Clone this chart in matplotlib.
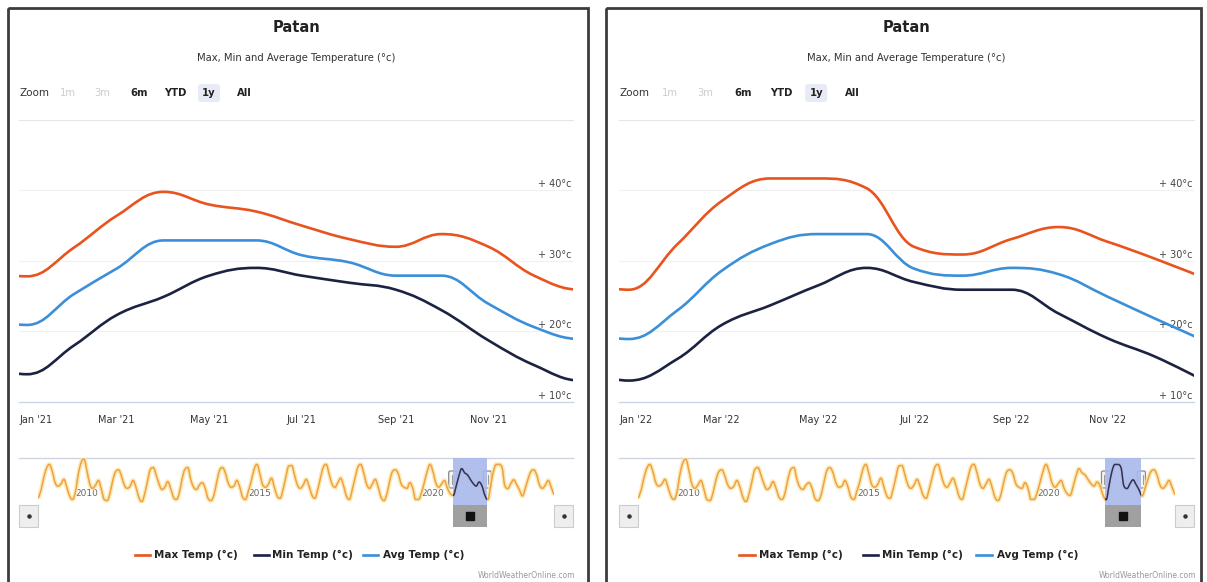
"""
Patan: Max / Min / Avg temperature, two 1-year views (2021, 2022) in Highstock-like panels.
"""
import datetime as dt

import matplotlib

matplotlib.use("Agg")
import matplotlib.dates as mdates
import matplotlib.pyplot as plt
import matplotlib.transforms as mtransforms
from matplotlib.patches import FancyBboxPatch, PathPatch, Rectangle
from matplotlib.path import Path

W, H = 1207, 582

# --- data -------------------------------------------------------------------
# monthly points, Dec 2020 .. Jan 2023
months = [dt.date(2020, 12, 1)] + [dt.date(2021 + m // 12, m % 12 + 1, 1) for m in range(25)]
max_temp = [28.6,
            27.8, 31.9, 36.4, 39.8, 38.0, 37.0, 35.0, 33.1, 32.0, 33.8, 32.0, 27.9,
            25.9, 32.4, 38.5, 41.7, 41.7, 40.3, 32.0, 30.9, 33.1, 34.8, 32.7, 30.3,
            27.6]
min_temp = [15.0,
            13.9, 18.0, 22.3, 24.9, 27.9, 29.0, 27.9, 26.9, 25.9, 23.0, 18.7, 15.2,
            13.0, 16.1, 20.9, 23.7, 26.5, 29.0, 27.0, 25.9, 25.9, 22.5, 19.0, 16.4,
            13.0]
avg_temp = [21.8,
            20.9, 25.3, 28.9, 32.9, 32.9, 32.9, 30.8, 29.8, 27.9, 27.9, 23.9, 20.6,
            18.9, 23.0, 28.6, 32.4, 33.8, 33.8, 28.9, 27.9, 29.0, 28.1, 24.9, 21.8,
            18.7]

# navigator (max temp, whole history 2009-2023)
nav_max_2009 = [26.5, 30.0, 35.5, 40.0, 41.7, 38.5, 33.5, 32.0, 33.0, 35.0, 31.5, 27.5]
nav_max_2010 = [26.0, 29.5, 37.0, 42.5, 44.1, 39.0, 33.0, 31.0, 32.5, 34.5, 30.5, 26.0]
nav_max_2011 = [25.5, 29.0, 34.5, 38.5, 39.3, 36.5, 32.5, 31.0, 32.0, 34.5, 31.5, 27.0]
nav_max_2012 = [25.0, 28.5, 34.0, 39.5, 40.3, 37.0, 33.0, 30.5, 31.5, 34.0, 31.0, 27.0]
nav_max_2013 = [26.0, 29.0, 35.0, 39.5, 40.3, 35.0, 31.5, 30.5, 32.5, 33.5, 31.0, 26.5]
nav_max_2014 = [25.5, 28.0, 33.5, 39.0, 40.3, 38.0, 33.5, 31.5, 32.0, 34.5, 31.5, 27.0]
nav_max_2015 = [26.0, 30.0, 34.0, 39.5, 41.7, 37.5, 32.5, 31.5, 33.0, 35.5, 31.5, 27.5]
nav_max_2016 = [26.5, 30.5, 36.0, 41.0, 41.2, 37.0, 32.5, 31.0, 32.5, 35.0, 32.0, 28.0]
nav_max_2017 = [26.5, 30.5, 35.5, 40.5, 41.7, 37.5, 33.0, 31.5, 33.5, 35.5, 32.0, 27.5]
nav_max_2018 = [26.0, 30.5, 35.5, 40.5, 41.7, 38.0, 33.0, 31.0, 33.0, 35.0, 31.5, 27.0]
nav_max_2019 = [25.5, 28.5, 34.0, 38.5, 39.3, 37.5, 33.0, 31.5, 31.0, 33.5, 31.0, 26.0]
nav_max_2020 = [26.0, 29.0, 33.5, 38.5, 41.7, 38.5, 33.5, 31.5, 33.0, 34.5, 31.0, 28.6]
nav_max_2023 = [27.6, 31.0, 35.0, 38.5, 39.3, 37.0, 32.5, 31.0, 32.5, 34.5, 31.5, 28.0]
nav_max = (nav_max_2009 + nav_max_2010 + nav_max_2011 + nav_max_2012 + nav_max_2013
           + nav_max_2014 + nav_max_2015 + nav_max_2016 + nav_max_2017 + nav_max_2018
           + nav_max_2019 + nav_max_2020 + max_temp[1:25] + nav_max_2023)
nav_months = [dt.date(2009 + m // 12, m % 12 + 1, 1) for m in range(len(nav_max))]
nav_years = [2010, 2015, 2020]

series_names = ["Max Temp (°c)", "Min Temp (°c)", "Avg Temp (°c)"]
series_colors = ["#e9531d", "#1c2241", "#3b8fd9"]
y_ticks = [10, 20, 30, 40]
y_labels = ["+ 10°c", "+ 20°c", "+ 30°c", "+ 40°c"]

panels = [
    dict(frame=(8, 588), plot=(19, 573),
         view=(dt.datetime(2020, 12, 26, 16), dt.datetime(2021, 12, 26, 16)),
         ticks=["2021-01-01", "2021-03-01", "2021-05-01", "2021-07-01", "2021-09-01", "2021-11-01"],
         tick_labels=["Jan '21", "Mar '21", "May '21", "Jul '21", "Sep '21", "Nov '21"]),
    dict(frame=(606, 1201), plot=(619, 1194),
         view=(dt.datetime(2021, 12, 25, 18), dt.datetime(2022, 12, 25, 18)),
         ticks=["2022-01-01", "2022-03-01", "2022-05-01", "2022-07-01", "2022-09-01", "2022-11-01"],
         tick_labels=["Jan '22", "Mar '22", "May '22", "Jul '22", "Sep '22", "Nov '22"]),
]


def hc_spline(xs, ys, smoothing=1.5):
    """Cubic path built like Highcharts' spline series."""
    n = len(xs)
    denom = smoothing + 1
    lcx, lcy, rcx, rcy = list(xs), list(ys), list(xs), list(ys)
    for i in range(1, n - 1):
        px, py = xs[i], ys[i]
        lx, ly = xs[i - 1], ys[i - 1]
        nx, ny = xs[i + 1], ys[i + 1]
        a = (smoothing * px + lx) / denom
        b = (smoothing * py + ly) / denom
        c = (smoothing * px + nx) / denom
        d = (smoothing * py + ny) / denom
        if c != a:
            corr = ((d - b) * (c - px)) / (c - a) + py - d
            b += corr
            d += corr
        if b > ly and b > py:
            b = max(ly, py)
            d = 2 * py - b
        elif b < ly and b < py:
            b = min(ly, py)
            d = 2 * py - b
        if d > ny and d > py:
            d = max(ny, py)
            b = 2 * py - d
        elif d < ny and d < py:
            d = min(ny, py)
            b = 2 * py - d
        lcx[i], lcy[i], rcx[i], rcy[i] = a, b, c, d
    verts = [(xs[0], ys[0])]
    codes = [Path.MOVETO]
    for i in range(1, n):
        verts += [(rcx[i - 1], rcy[i - 1]), (lcx[i], lcy[i]), (xs[i], ys[i])]
        codes += [Path.CURVE4] * 3
    return Path(verts, codes)


def fax(x0, y0, x1, y1):
    return [x0 / W, 1 - y1 / H, (x1 - x0) / W, (y1 - y0) / H]


fig = plt.figure(figsize=(W / 100, H / 100), dpi=100)
bg = fig.add_axes([0, 0, 1, 1], zorder=0)
bg.set_xlim(0, W)
bg.set_ylim(H, 0)
bg.axis("off")

xm = mdates.date2num(months)
xn = mdates.date2num(nav_months)
all_series = [max_temp, min_temp, avg_temp]

for p in panels:
    fx0, fx1 = p["frame"]
    px0, px1 = p["plot"]
    sc = (px1 - px0) / 554.0
    cx = (px0 + px1) / 2

    # frame, titles, zoom buttons
    bg.add_patch(Rectangle((fx0, 8), fx1 - fx0, 590, fill=False, ec="#3c3c3c", lw=2))
    bg.text(cx, 28, "Patan", ha="center", va="center", fontsize=10.5, fontweight="bold", color="#222")
    bg.text(cx, 58, "Max, Min and Average Temperature (°c)", ha="center", va="center",
            fontsize=7.2, color="#333")
    bg.text(px0, 93, "Zoom", ha="left", va="center", fontsize=7.5, color="#333")
    btns = ["1m", "3m", "6m", "YTD", "1y", "All"]
    offs = [49, 83, 120, 156, 190, 225]
    for b, o in zip(btns, offs):
        bx = px0 + o * sc
        if b == "1y":
            bg.add_patch(FancyBboxPatch((bx - 11, 84), 22, 18, boxstyle="round,pad=0,rounding_size=3",
                                        fc="#e6ebf5", ec="none"))
        faded = b in ("1m", "3m")
        bg.text(bx, 93, b, ha="center", va="center", fontsize=7.2,
                fontweight="normal" if faded else "bold", color="#cccccc" if faded else "#222")

    # main chart
    ax = fig.add_axes(fax(px0, 120, px1, 401.7), zorder=2)
    ax.patch.set_visible(False)
    ax.set_xlim(mdates.date2num(p["view"][0]), mdates.date2num(p["view"][1]))
    ax.set_ylim(10, 50)
    for y in [20, 30, 40]:
        ax.axhline(y, color="#f0f0f0", lw=0.8, zorder=0)
    ax.axhline(50, color="#e6e6e6", lw=0.8, zorder=0, clip_on=False)
    ax.axhline(10, color="#ccd6eb", lw=1.0, zorder=0, clip_on=False)
    for yv, yl in zip(y_ticks, y_labels):
        ax.text(0.998, yv + 0.15, yl, transform=mtransforms.blended_transform_factory(ax.transAxes, ax.transData),
                ha="right", va="bottom", fontsize=7, color="#444", zorder=1)
    for vals, col in zip(all_series, series_colors):
        ax.add_patch(PathPatch(hc_spline(xm, vals), fill=False, ec=col, lw=1.9,
                               capstyle="round", joinstyle="round", zorder=3))
    tb = mtransforms.blended_transform_factory(ax.transData, ax.transAxes)
    for k, (td, tl) in enumerate(zip(p["ticks"], p["tick_labels"])):
        if k == 0:
            ax.text(0.0, -0.065, tl, transform=ax.transAxes, ha="left", va="center",
                    fontsize=7, color="#333")
        else:
            ax.text(mdates.datestr2num(td), -0.065, tl, transform=tb, ha="center", va="center",
                    fontsize=7, color="#333")
    ax.axis("off")

    # navigator
    bg.plot([px0, px1], [458, 458], color="#cfd6e0", lw=1)
    nav = fig.add_axes(fax(px0 + 19, 458, px1 - 19, 503), zorder=2)
    nav.patch.set_visible(False)
    nav.set_xlim(xn[0], xn[-1])
    nav.set_ylim(24.4, 44.6)
    nav.axis("off")
    nb = mtransforms.blended_transform_factory(nav.transData, nav.transAxes)
    dpp = (xn[-1] - xn[0]) / (px1 - px0 - 38)
    for yr in nav_years:
        nav.text(mdates.date2num(dt.date(yr, 1, 1)) + 3 * dpp, 0.2, str(yr), transform=nb,
                 ha="left", va="center", fontsize=6.5, color="#666", zorder=1)
    npath = hc_spline(xn, nav_max)
    nav.add_patch(PathPatch(npath, fill=False, ec="#fbe6a0", lw=3.2, alpha=0.8, zorder=2))
    nav.add_patch(PathPatch(npath, fill=False, ec="#f0a048", lw=1.1, zorder=3))
    v0 = mdates.date2num(p["view"][0])
    v1 = mdates.date2num(p["view"][1])
    mask = Rectangle((v0, -0.05), v1 - v0, 1.05, transform=nb, fc="#a9b8ec", ec="none",
                     alpha=0.9, zorder=4, clip_on=False)
    nav.add_patch(mask)
    inner = PathPatch(npath, fill=False, ec="#2e3356", lw=1.1, zorder=5)
    nav.add_patch(inner)
    inner.set_clip_path(mask)
    # scrollbar
    nav.add_patch(Rectangle((v0, -0.535), v1 - v0, 0.49, transform=nb, fc="#a0a0a0", ec="none",
                            zorder=4, clip_on=False))
    nav.plot([(v0 + v1) / 2], [-0.29], marker="s", ms=6, color="#111", transform=nb,
             clip_on=False, zorder=5)
    for bx in (px0, px1 - 19):
        bg.add_patch(Rectangle((bx, 505), 19, 22, fc="#eeeeee", ec="#cccccc", lw=0.8))
        bg.plot([bx + 9.5], [516], marker="o", ms=2.2, color="#333")
    # handles
    for v in (v0, v1):
        hx = nav.transData.transform((v, 0))[0]
        bg.add_patch(FancyBboxPatch((hx - 4, 471), 8, 17, boxstyle="round,pad=0,rounding_size=1.5",
                                    fc="#f4f4f4", ec="#8a8a8a", lw=0.9, zorder=5))
        bg.plot([hx - 1.2, hx - 1.2], [475, 484], color="#8a8a8a", lw=0.6, zorder=6)
        bg.plot([hx + 1.2, hx + 1.2], [475, 484], color="#8a8a8a", lw=0.6, zorder=6)

    # legend
    leg = [(116, 135), (235, 253), (344, 364)]
    for (lo, to), name, col in zip(leg, series_names, series_colors):
        lx = px0 + lo * sc
        tx = px0 + to * sc
        bg.plot([lx, lx + 15 * sc], [555, 555], color=col, lw=1.9)
        bg.text(tx, 555, name, ha="left", va="center", fontsize=7.5, fontweight="bold", color="#222")
    bg.text(px1 + 2, 575, "WorldWeatherOnline.com", ha="right", va="center", fontsize=5.5, color="#999")

fig.savefig("out.png", dpi=100)
